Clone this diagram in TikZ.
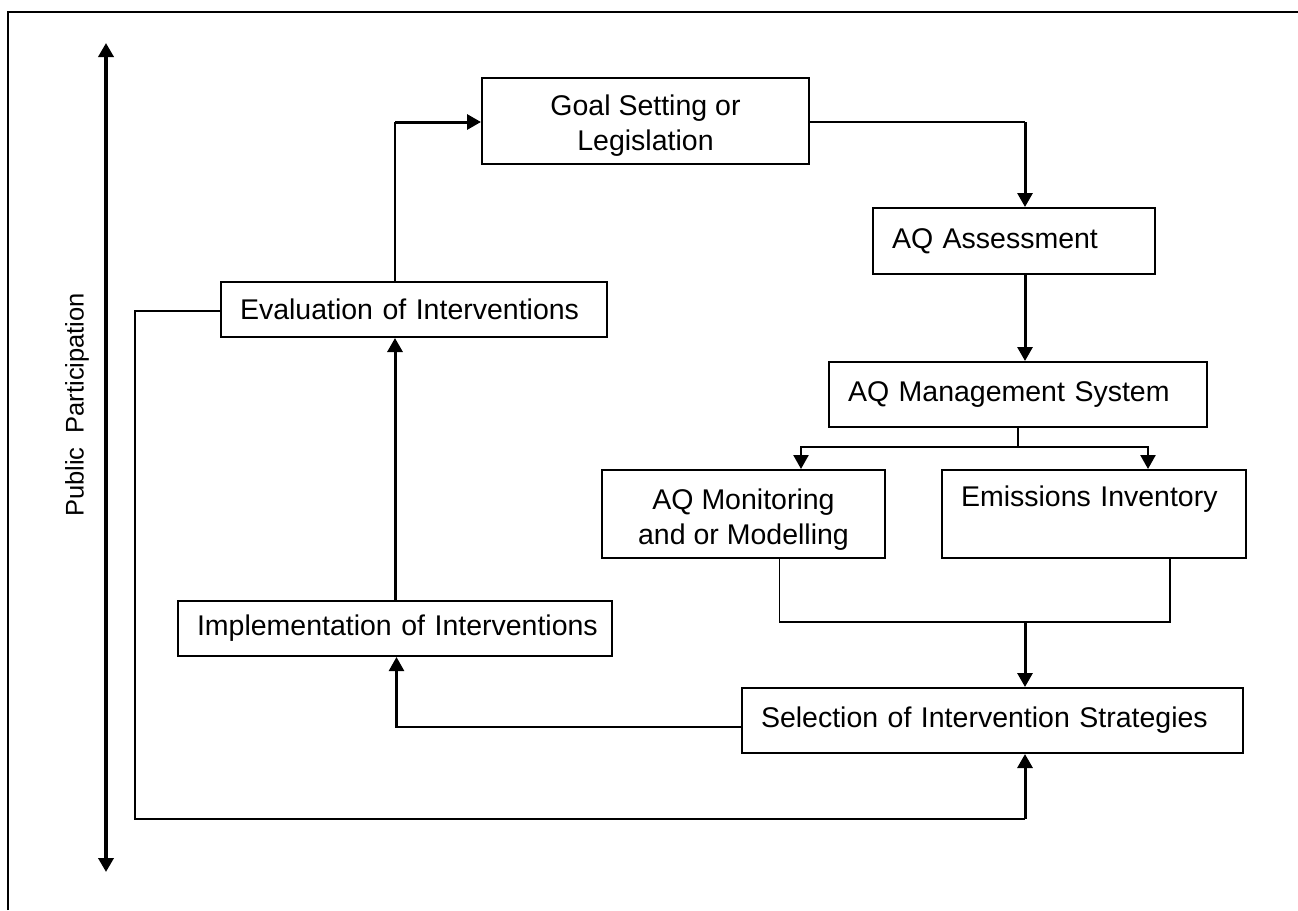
\documentclass[tikz,border=0pt]{standalone}
\usepackage{fontspec}
\setmainfont{Liberation Sans}
\usetikzlibrary{arrows.meta}
\newcommand{\toppad}{\rule{0pt}{31pt}}
\begin{document}
\begin{tikzpicture}[x=1pt,y=-1pt,
  box/.style={draw, line width=2pt, rectangle, inner sep=0pt, font=\fontsize{28.5}{35}\selectfont},
  lbox/.style={box, align=left, inner xsep=19pt, text width=#1},
  tip/.style={-{Triangle[length=14pt,width=15pt]}},
  thk/.style={line width=3pt, line join=miter, tip},
  thn/.style={line width=1.7pt, line join=miter},
]
\useasboundingbox (0,0) rectangle (1298,910);
% frame (left and top edges only)
\coordinate (f0) at (8,910);
\coordinate (f1) at (8,12);
\coordinate (f2) at (1298,12);
\draw[line width=2.5pt] (f0) -- (f1) -- (f2);

% public participation
\coordinate (ppt) at (106,43);
\coordinate (ppb) at (106,872);
\draw[line width=3.5pt, {Triangle[length=14pt,width=15pt]}-{Triangle[length=14pt,width=15pt]}] (ppt) -- (ppb);
\node[rotate=90, font=\fontsize{25.5}{30}\selectfont] (pp) at (77,405) {Public\ \ Participation};

% boxes
\node[box, minimum width=327pt, minimum height=86pt, align=center] (goal) at (645.5,120.5) {\toppad Goal Setting or\\Legislation};
\node[lbox=244pt, minimum height=66pt] (aqa) at (1014,241) {\mbox{AQ Assessment}};
\node[lbox=340pt, minimum height=65pt] (aqm) at (1018,394.5) {\mbox{AQ Management System}};
\node[box, minimum width=283pt, minimum height=88pt, align=center] (mon) at (743.5,514) {\toppad AQ Monitoring\\and or Modelling};
\node[lbox=266pt, minimum height=88pt] (emi) at (1094,514) {\toppad\mbox{Emissions Inventory}\\\strut};
\node[lbox=463pt, minimum height=65pt] (sel) at (992.5,720.5) {\mbox{Selection of Intervention Strategies}};
\node[lbox=396pt, minimum height=55pt] (impl) at (395,628.5) {\mbox{Implementation of Interventions}};
\node[lbox=348pt, minimum height=55pt] (eval) at (414,309.5) {\mbox{Evaluation of Interventions}};

% evaluation -> goal
\coordinate (c1) at (395,122);
\draw[thn] (eval.north -| c1) -- (c1);
\draw[thk] (c1) -- (c1 -| goal.west);
% goal -> AQ assessment
\coordinate (c2) at (1025,122);
\draw[thn] (goal.east |- c2) -- (c2);
\draw[thk] (c2) -- (c2 |- aqa.north);
% AQ assessment -> AQ management
\draw[thk] (c2 |- aqa.south) -- (c2 |- aqm.north);
% AQ management -> monitoring / emissions
\coordinate (c3) at (1018,447);
\coordinate (c3l) at (801,447);
\coordinate (c3r) at (1148,447);
\draw[thn] (c3 |- aqm.south) -- (c3);
\draw[line width=2.4pt, line join=miter, tip] (c3) -- (c3l) -- (c3l |- mon.north);
\draw[line width=2.4pt, line join=miter, tip] (c3) -- (c3r) -- (c3r |- emi.north);
% merge -> selection
\coordinate (m1) at (779.5,622);
\coordinate (m2) at (1170,622);
\coordinate (m0) at (1025,622);
\draw[thn] (m1 |- mon.south) -- (m1) -- (m2) -- (m2 |- emi.south);
\draw[thk] (m0) -- (m0 |- sel.north);
% selection -> implementation
\coordinate (s1) at (396.5,727);
\draw[line width=2.4pt, line join=miter, tip] (s1 -| sel.west) -- (s1) -- (s1 |- impl.south);
% implementation -> evaluation
\draw[thk] (c1 |- impl.north) -- (c1 |- eval.south);
% evaluation -> selection (loop)
\coordinate (l1) at (135,311);
\coordinate (l2) at (135,819);
\coordinate (l3) at (1025,819);
\draw[line width=2pt, line join=miter] (eval.west |- l1) -- (l1) -- (l2) -- (l3);
\draw[thk] (l3) -- (l3 |- sel.south);
\end{tikzpicture}
\end{document}
